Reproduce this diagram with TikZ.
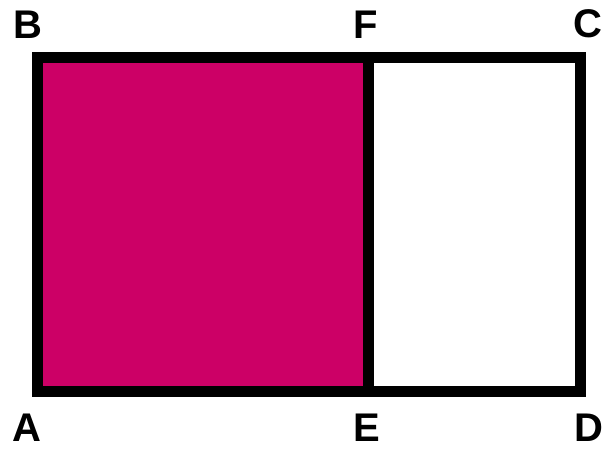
\documentclass[tikz,border=0pt]{standalone}
\usepackage{fontspec}
\setmainfont{Liberation Sans}
\definecolor{mag}{RGB}{204,0,102}
\begin{document}
\begin{tikzpicture}[x=1pt,y=-1pt,
  lbl/.style={font=\fontsize{40}{40}\selectfont\bfseries, inner sep=0pt, anchor=center},
  edge/.style={line width=11pt, line cap=rect, line join=miter}]
\useasboundingbox (0,0) rectangle (608,451);
\coordinate (A) at (37.5,391);
\coordinate (B) at (37.5,57.5);
\coordinate (F) at (368,57.5);
\coordinate (C) at (580,57.5);
\coordinate (D) at (580,391);
\coordinate (E) at (368,391);
\fill[mag] (A) rectangle (F);
\draw[edge] (A) -- (B) -- (C) -- (D) -- cycle;
\draw[edge, line cap=butt] (F) -- (E);
\node[lbl] (lB) at (28,25) {B};
\node[lbl] (lF) at (366,25) {F};
\node[lbl] (lC) at (588,24) {C};
\node[lbl] (lA) at (27,428) {A};
\node[lbl] (lE) at (367,428) {E};
\node[lbl] (lD) at (589,428) {D};
\end{tikzpicture}
\end{document}
